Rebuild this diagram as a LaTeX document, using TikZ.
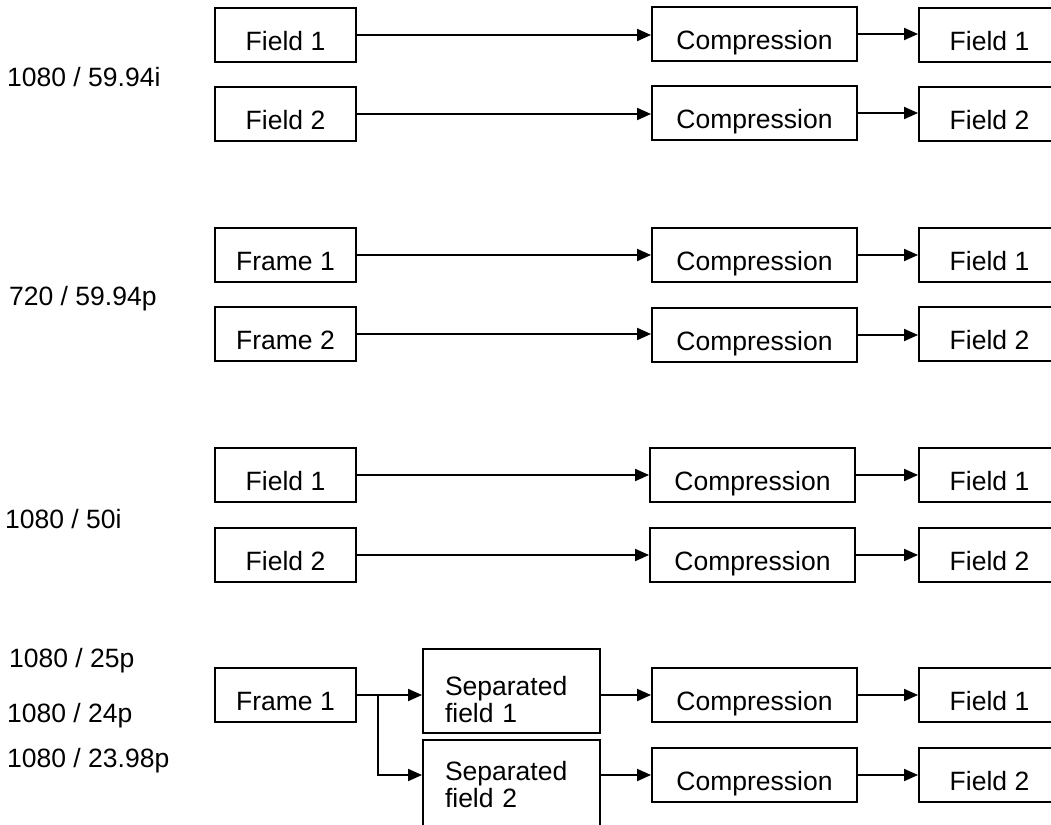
\documentclass[tikz,border=0pt]{standalone}
\usepackage{fontspec}
\setmainfont{Liberation Sans}
\usetikzlibrary{arrows.meta,calc,positioning}
\definecolor{dgInk}{HTML}{000000}
\tikzset{
 chain/.style={font=\fontsize{26.5}{27.5}\selectfont,line join=miter,text=dgInk},
 srcbox/.style={rectangle,draw=dgInk,line width=1.9pt,inner sep=0pt,minimum width=141pt,minimum height=54pt,text height=31pt,text depth=0pt},
 cmpbox/.style={srcbox,minimum width=205pt},
 outbox/.style={srcbox},
 sepbox/.style={rectangle,draw=dgInk,line width=1.9pt,inner sep=0pt,minimum width=177pt,minimum height=84pt,text width=133pt,align=left,text height=20pt,text depth=12pt},
 fmtlabel/.style={anchor=base west,inner sep=0pt},
 flow/.style={draw=dgInk,line width=1.9pt,-{Triangle[length=14pt,width=12pt]}}
}

\begin{document}
\begin{tikzpicture}[chain,x=1pt,y=-1pt]
 \useasboundingbox (0,0) rectangle (1051,824);
 \clip (0,0) rectangle (1051,824);
 % 1080 / 59.94i
 \node[fmtlabel] (lblA) at (7,87) {1080 / 59.94i};
 \node[srcbox] (fldA) at (285.5,35) {Field 1};
 \node[srcbox] (fldB) at (285.5,114) {Field 2};
 \node[cmpbox] (cmpA) at (754.5,34) {Compression};
 \node[cmpbox] (cmpB) at (754.5,113) {Compression};
 \node[outbox] (outA) at (989.5,35) {Field 1};
 \node[outbox] (outB) at (989.5,114) {Field 2};
 \draw[flow] (fldA) -- (fldA -| cmpA.west);
 \draw[flow] (fldB) -- (fldB -| cmpB.west);
 \draw[flow] (cmpA) -- (cmpA -| outA.west);
 \draw[flow] (cmpB) -- (cmpB -| outB.west);
 % 720 / 59.94p
 \node[fmtlabel] (lblB) at (9,305) {720 / 59.94p};
 \node[srcbox] (frmC) at (285.5,255) {Frame 1};
 \node[srcbox] (frmD) at (285.5,334) {Frame 2};
 \node[cmpbox] (cmpC) at (754.5,255) {Compression};
 \node[cmpbox] (cmpD) at (754.5,335) {Compression};
 \node[outbox] (outC) at (989.5,255) {Field 1};
 \node[outbox] (outD) at (989.5,334) {Field 2};
 \draw[flow] (frmC) -- (frmC -| cmpC.west);
 \draw[flow] (frmD) -- (frmD -| cmpD.west);
 \draw[flow] (cmpC) -- (cmpC -| outC.west);
 \draw[flow] (cmpD) -- (cmpD -| outD.west);
 % 1080 / 50i
 \node[fmtlabel] (lblC) at (5,528) {1080 / 50i};
 \node[srcbox] (fldE) at (285.5,475) {Field 1};
 \node[srcbox] (fldF) at (285.5,555) {Field 2};
 \node[cmpbox] (cmpE) at (752.5,475) {Compression};
 \node[cmpbox] (cmpF) at (752.5,555) {Compression};
 \node[outbox] (outE) at (989.5,475) {Field 1};
 \node[outbox] (outF) at (989.5,555) {Field 2};
 \draw[flow] (fldE) -- (fldE -| cmpE.west);
 \draw[flow] (fldF) -- (fldF -| cmpF.west);
 \draw[flow] (cmpE) -- (cmpE -| outE.west);
 \draw[flow] (cmpF) -- (cmpF -| outF.west);
 % progressive frames split into two fields
 \node[fmtlabel] (lblD) at (9,667) {1080 / 25p};
 \node[fmtlabel] (lblE) at (7,722) {1080 / 24p};
 \node[fmtlabel] (lblF) at (7,767) {1080 / 23.98p};
 \node[srcbox] (frmG) at (285.5,695) {Frame 1};
 \node[sepbox] (sepA) at (511.5,691) {Separated\\field 1};
 \node[sepbox,minimum height=90pt,text height=11pt,text depth=21pt] (sepB) at (511.5,785) {Separated\\field 2};
 \node[cmpbox] (cmpG) at (754.5,695) {Compression};
 \node[cmpbox] (cmpH) at (754.5,775) {Compression};
 \node[outbox] (outG) at (989.5,695) {Field 1};
 \node[outbox] (outH) at (989.5,775) {Field 2};
 \coordinate (fork) at ([xshift=21pt]frmG.east);
 \draw[flow] (frmG) -- (frmG -| sepA.west);
 \draw[flow] (fork) |- (sepB.west |- cmpH);
 \draw[flow] (sepA.east |- cmpG) -- (cmpG);
 \draw[flow] (sepB.east |- cmpH) -- (cmpH);
 \draw[flow] (cmpG) -- (cmpG -| outG.west);
 \draw[flow] (cmpH) -- (cmpH -| outH.west);
\end{tikzpicture}
\end{document}
